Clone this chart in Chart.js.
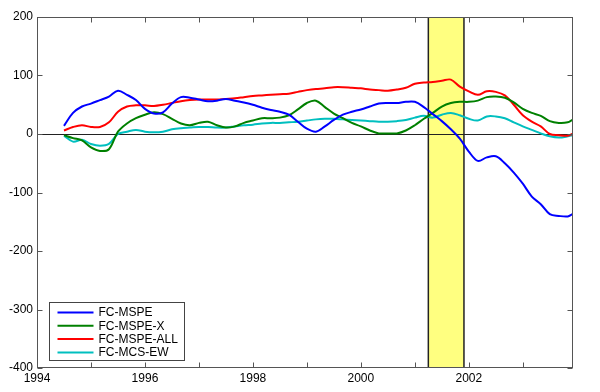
<!DOCTYPE html>
<html><head><meta charset="utf-8">
<script src="https://cdn.jsdelivr.net/npm/chart.js@4"></script>
<style>html,body{margin:0;padding:0;background:#fff;}#wrap{width:600px;height:392px;}</style>
</head><body><div id="wrap"><canvas id="c" width="600" height="392"></canvas></div>
<script>
const dates = [1994.5,1994.667,1994.833,1995,1995.167,1995.333,1995.5,1995.667,1995.833,1996,
  1996.167,1996.333,1996.5,1996.667,1996.833,1997,1997.167,1997.333,1997.5,1997.667,
  1997.833,1998,1998.167,1998.333,1998.5,1998.667,1998.833,1999,1999.167,1999.333,
  1999.5,1999.667,1999.833,2000,2000.167,2000.333,2000.5,2000.667,2000.833,2001,
  2001.167,2001.333,2001.5,2001.667,2001.833,2002,2002.167,2002.333,2002.5,2002.667,
  2002.833,2003,2003.167,2003.333,2003.5,2003.667,2003.833,2003.917];
const fcMspe = [14,36,47,52,58,64,74,67,58,43, 35,37,52,63,62,59,56,57,60,57, 54,50,45,41,38,33,21,9,4,13,
  24,33,38,42,47,52,53,53,55,55, 46,34,22,8,-8,-30,-46,-40,-38,-50, -66,-85,-107,-120,-137,-140,-141,-137];
const fcMspeX = [-2,-7,-11,-23,-29,-26,4,18,27,33, 37,34,26,18,15,19,21,15,11,13, 19,23,27,27,28,32,42,53,57,46,
  35,27,19,13,6,1,1,1,6,15, 26,36,47,53,55,55,57,63,64,62, 54,43,36,31,22,19,20,24];
const fcMspeAll = [6,12,15,12,12,20,38,47,49,49, 48,50,53,56,58,59,59,59,60,61, 63,65,66,67,68,69,72,75,77,78,
  80,80,79,78,76,75,74,76,79,86, 88,89,91,93,81,73,67,73,72,66, 50,32,21,13,0,-2,-3,0];
const fcMcsEw = [-3,-13,-10,-17,-20,-17,0,4,7,4, 3,4,8,10,11,12,12,11,11,13, 15,16,18,19,19,20,21,23,25,26,
  26,25,24,23,22,21,21,22,24,28, 31,28,33,36,32,26,23,30,30,27, 20,13,7,1,-4,-6,-4,-2];
const seriesNames = ['FC-MSPE','FC-MSPE-X','FC-MSPE-ALL','FC-MCS-EW'];
const seriesColors = ['#0000ff','#008000','#ff0000','#00bfbf'];
const xRange = [1994, 2003.93];
const yRange = [-400, 200];
const recession = [2001.25, 2001.91];

const seriesValues = [fcMspe, fcMspeX, fcMspeAll, fcMcsEw];
const FONT = '"Liberation Sans", Arial, sans-serif';

const framePlugin = {
  id: 'framePlugin',
  beforeDatasetsDraw(chart) {
    const {ctx, chartArea: a, scales: {x, y}} = chart;
    ctx.save();
    const x0 = x.getPixelForValue(recession[0]);
    const x1 = x.getPixelForValue(recession[1]);
    ctx.fillStyle = '#ffff80';
    ctx.fillRect(x0, a.top, x1 - x0, a.bottom - a.top);
    ctx.strokeStyle = '#222';
    ctx.lineWidth = 1.5;
    ctx.beginPath();
    ctx.moveTo(x0, a.top); ctx.lineTo(x0, a.bottom);
    ctx.moveTo(x1, a.top); ctx.lineTo(x1, a.bottom);
    ctx.stroke();
    const y0 = Math.round(y.getPixelForValue(0)) + 0.5;
    ctx.strokeStyle = '#222';
    ctx.lineWidth = 1;
    ctx.beginPath();
    ctx.moveTo(a.left, y0); ctx.lineTo(a.right, y0);
    ctx.stroke();
    ctx.restore();
  },
  afterDraw(chart) {
    const {ctx, chartArea: a, scales: {x, y}} = chart;
    ctx.save();
    ctx.strokeStyle = '#555';
    ctx.lineWidth = 1;
    const L = Math.round(a.left) + 0.5, R = Math.round(a.right) - 0.5;
    const T = Math.round(a.top) + 0.5, B = Math.round(a.bottom) - 0.5;
    ctx.strokeRect(L, T, R - L, B - T);
    const tl = 5;
    ctx.beginPath();
    x.ticks.forEach(t => {
      const px = Math.round(x.getPixelForValue(t.value)) + 0.5;
      ctx.moveTo(px, B); ctx.lineTo(px, B - tl);
      ctx.moveTo(px, T); ctx.lineTo(px, T + tl);
    });
    y.ticks.forEach(t => {
      const py = Math.round(y.getPixelForValue(t.value)) + 0.5;
      ctx.moveTo(L, py); ctx.lineTo(L + tl, py);
      ctx.moveTo(R, py); ctx.lineTo(R - tl, py);
    });
    ctx.stroke();
    // legend
    const bx = Math.round(a.left) + 12.5, by = Math.round(a.bottom) - 65.5;
    const bw = 135, bh = 58;
    ctx.fillStyle = '#fff';
    ctx.fillRect(bx, by, bw, bh);
    ctx.strokeStyle = '#444';
    ctx.strokeRect(bx, by, bw, bh);
    ctx.font = '12px ' + FONT;
    ctx.textBaseline = 'middle';
    ctx.textAlign = 'left';
    chart.data.datasets.forEach((ds, i) => {
      const ry = by + 10 + i * 13.3;
      ctx.strokeStyle = ds.borderColor;
      ctx.lineWidth = 2;
      ctx.beginPath();
      ctx.moveTo(bx + 8, ry); ctx.lineTo(bx + 44, ry);
      ctx.stroke();
      ctx.fillStyle = '#000';
      ctx.fillText(ds.label, bx + 49, ry + 0.5);
    });
    ctx.restore();
  }
};

new Chart(document.getElementById('c'), {
  type: 'line',
  data: {
    datasets: seriesNames.map((name, i) => ({
      label: name,
      data: dates.map((d, k) => ({x: d, y: seriesValues[i][k]})),
      borderColor: seriesColors[i],
      backgroundColor: seriesColors[i],
      borderWidth: 2,
      pointRadius: 0,
      tension: 0.35,
      fill: false
    }))
  },
  options: {
    responsive: false,
    devicePixelRatio: 1,
    animation: false,
    layout: {padding: {top: 17, right: 27, left: 0, bottom: 0}},
    plugins: {legend: {display: false}, tooltip: {enabled: false}},
    scales: {
      x: {
        type: 'linear', min: xRange[0], max: xRange[1],
        grid: {display: false, drawTicks: false},
        border: {display: false},
        ticks: {
          stepSize: 1, includeBounds: false, autoSkip: false, maxRotation: 0,
          padding: 3, color: '#000', font: {family: FONT, size: 12},
          callback: v => (v % 2 === 0 ? String(v) : '')
        },
        afterFit(s) { s.height = 24; }
      },
      y: {
        min: yRange[0], max: yRange[1],
        grid: {display: false, drawTicks: false},
        border: {display: false},
        ticks: {stepSize: 100, padding: 4, color: '#000', font: {family: FONT, size: 12}},
        afterFit(s) { s.width = 37; }
      }
    }
  },
  plugins: [framePlugin]
});
</script>
</body></html>
